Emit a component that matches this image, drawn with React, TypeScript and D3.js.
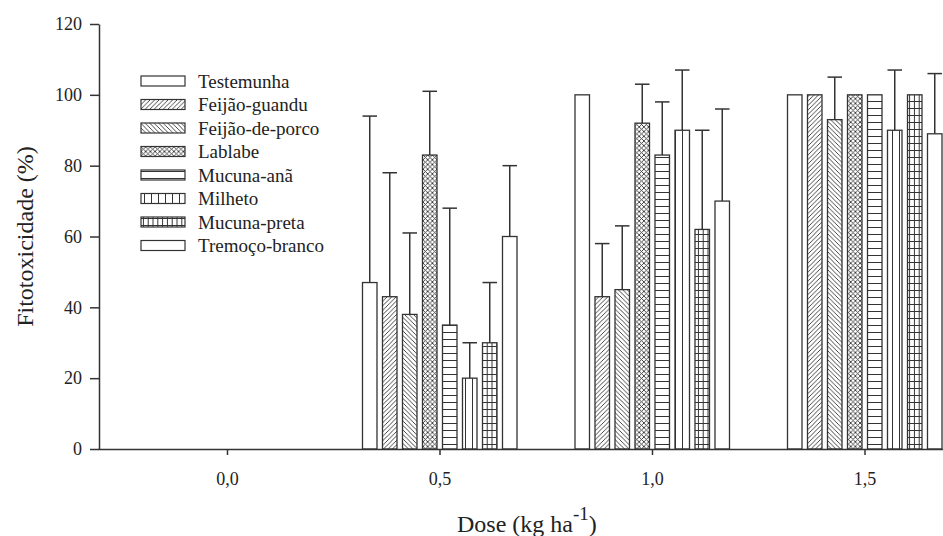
import { useEffect, useRef } from "react";
import * as d3 from "d3";

// doses (kg ha-1) and cover crops
const doses = [0, 0.5, 1.0, 1.5];
const species = [
    "Testemunha",
    "Feijão-guandu",
    "Feijão-de-porco",
    "Lablabe",
    "Mucuna-anã",
    "Milheto",
    "Mucuna-preta",
    "Tremoço-branco",
];
// fitotoxicidade (%) per dose, one row per dose, in species order
const values0 = [0, 0, 0, 0, 0, 0, 0, 0];
const values05 = [47, 43, 38, 83, 35, 20, 30, 60];
const values10 = [100, 43, 45, 92, 83, 90, 62, 70];
const values15 = [100, 100, 93, 100, 100, 90, 100, 89];
// top of the error bars (null = no error bar)
const upper0 = [null, null, null, null, null, null, null, null];
const upper05 = [94, 78, 61, 101, 68, 30, 47, 80];
const upper10 = [null, 58, 63, 103, 98, 107, 90, 96];
const upper15 = [null, null, 105, null, null, 107, null, 106];
const yTicks = [0, 20, 40, 60, 80, 100, 120];

const patternOf = ["none", "diagUp", "diagDown", "cross", "horiz", "vert", "grid", "none"];

const W = 943;
const H = 536;
const FONT = "'Liberation Serif', 'Times New Roman', Times, serif";
const INK = "#333";

export default function App() {
    const xAxisEl = useRef<SVGGElement>(null);
    const yAxisEl = useRef<SVGGElement>(null);

    const x = d3.scaleLinear().domain([-0.3035, 1.8]).range([98, 992]);
    const y = d3.scaleLinear().domain([0, 120]).range([449, 24]);
    const inner = d3.scaleBand<string>().domain(species).range([-77, 77.5]).paddingInner(0.275);

    const rows = [
        { dose: doses[0], vals: values0, ups: upper0 },
        { dose: doses[1], vals: values05, ups: upper05 },
        { dose: doses[2], vals: values10, ups: upper10 },
        { dose: doses[3], vals: values15, ups: upper15 },
    ];

    useEffect(() => {
        const xa = d3.select(xAxisEl.current);
        xa.selectChildren().remove();
        xa.call(
            d3.axisBottom(x)
                .tickValues(doses)
                .tickSize(6)
                .tickSizeOuter(0)
                .tickPadding(17)
                .tickFormat((d) => d3.format(".1f")(d as number).replace(".", ","))
        );
        const ya = d3.select(yAxisEl.current);
        ya.selectChildren().remove();
        ya.call(d3.axisLeft(y).tickValues(yTicks).tickSize(9).tickSizeOuter(0).tickPadding(8));
        [xa, ya].forEach((g) => {
            g.attr("font-family", FONT).attr("font-size", 18);
            g.selectAll("path, line").attr("stroke", INK).attr("stroke-width", 1.5);
            g.selectAll("text").attr("fill", "#222");
        });
    }, []);

    return (
        <svg width={W} height={H} style={{ position: "absolute", left: 0, top: 0, background: "#fff" }}>
            <defs>
                <pattern id="diagUp" patternUnits="userSpaceOnUse" width={4.5} height={4.5}>
                    <path d="M-1,1 L1,-1 M0,4.5 L4.5,0 M3.5,5.5 L5.5,3.5" stroke={INK} strokeWidth={0.9} />
                </pattern>
                <pattern id="diagDown" patternUnits="userSpaceOnUse" width={4.5} height={4.5}>
                    <path d="M-1,3.5 L1,5.5 M0,0 L4.5,4.5 M3.5,-1 L5.5,1" stroke={INK} strokeWidth={0.9} />
                </pattern>
                <pattern id="cross" patternUnits="userSpaceOnUse" width={4.7} height={4.7}>
                    <path d="M0,4.7 L4.7,0 M0,0 L4.7,4.7" stroke={INK} strokeWidth={0.9} />
                </pattern>
                <pattern id="horiz" patternUnits="userSpaceOnUse" width={7} height={7}>
                    <path d="M0,3.5 L7,3.5" stroke={INK} strokeWidth={1} />
                </pattern>
                <pattern id="vert" patternUnits="userSpaceOnUse" width={7} height={7}>
                    <path d="M3.5,0 L3.5,7" stroke={INK} strokeWidth={1} />
                </pattern>
                <pattern id="grid" patternUnits="userSpaceOnUse" width={4.8} height={7}>
                    <path d="M0,3.5 L4.8,3.5 M2.4,0 L2.4,7" stroke={INK} strokeWidth={1} />
                </pattern>
            </defs>

            {rows.map((r) =>
                species.map((s, i) => {
                    const v = r.vals[i];
                    if (!v) return null;
                    const x0 = x(r.dose) + (inner(s) ?? 0);
                    const bw = inner.bandwidth();
                    const up = r.ups[i];
                    return (
                        <g key={`${r.dose}-${s}`}>
                            {up != null && (
                                <g stroke={INK} strokeWidth={1.5}>
                                    <line x1={x0 + bw / 2} x2={x0 + bw / 2} y1={y(v)} y2={y(up)} />
                                    <line x1={x0} x2={x0 + bw} y1={y(up)} y2={y(up)} />
                                </g>
                            )}
                            <rect
                                x={x0}
                                y={y(v)}
                                width={bw}
                                height={y(0) - y(v)}
                                fill={patternOf[i] === "none" ? "#fff" : `url(#${patternOf[i]})`}
                                stroke={INK}
                                strokeWidth={1.3}
                            />
                        </g>
                    );
                })
            )}

            <g ref={xAxisEl} transform={`translate(0,${y(0)})`} />
            <g ref={yAxisEl} transform={`translate(${x.range()[0] + 1},0)`} />

            <g fontFamily={FONT} fontSize={19} fill="#222">
                {species.map((s, i) => (
                    <g key={s} transform={`translate(141,${81 + i * 23.5})`}>
                        <rect
                            x={0}
                            y={-5}
                            width={44}
                            height={10}
                            fill={patternOf[i] === "none" ? "#fff" : `url(#${patternOf[i]})`}
                            stroke={INK}
                            strokeWidth={1.2}
                        />
                        <text x={57} y={0} dy="0.35em">
                            {s}
                        </text>
                    </g>
                ))}
            </g>

            <text
                transform={`translate(33,${(y(0) + y(120)) / 2}) rotate(-90)`}
                textAnchor="middle"
                fontFamily={FONT}
                fontSize={24}
                fill="#222"
            >
                Fitotoxicidade (%)
            </text>
            <text x={457} y={532} fontFamily={FONT} fontSize={24} fill="#222">
                Dose (kg ha
                <tspan dy={-12} fontSize={19}>
                    -1
                </tspan>
                <tspan dy={12}>)</tspan>
            </text>
        </svg>
    );
}
